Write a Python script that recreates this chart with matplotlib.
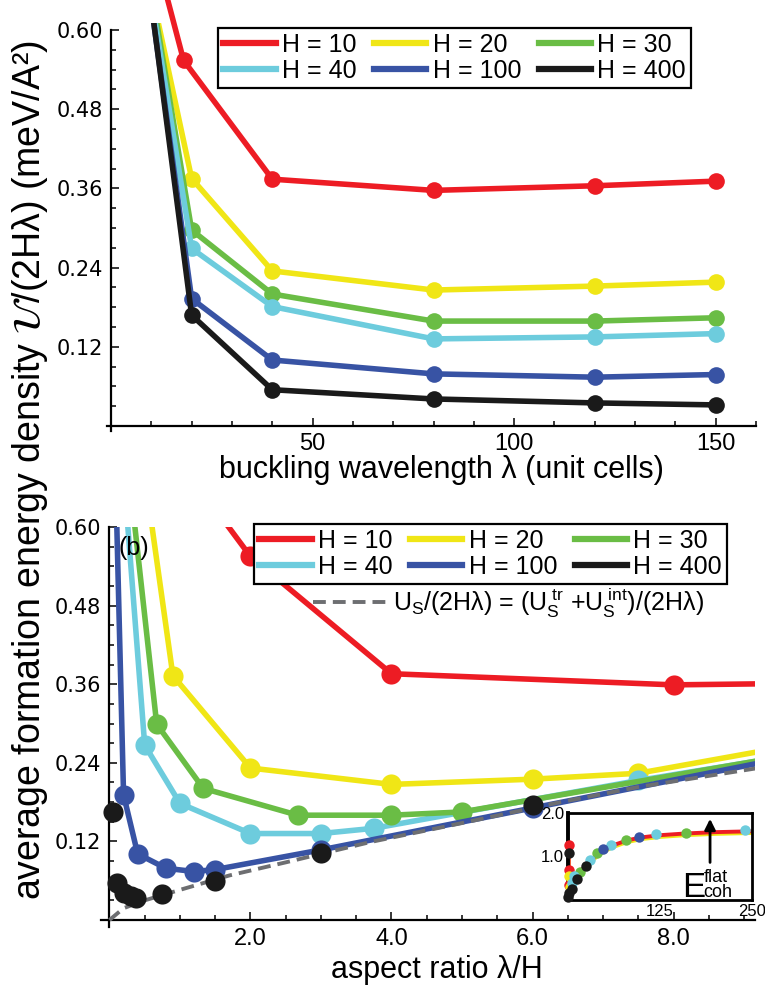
import matplotlib
matplotlib.use('Agg')
import matplotlib.pyplot as plt
from matplotlib.lines import Line2D
from matplotlib.ticker import MultipleLocator, FixedLocator

plt.rcParams['font.family'] = ['Liberation Sans', 'DejaVu Sans']
plt.rcParams['mathtext.fontset'] = 'custom'
plt.rcParams['mathtext.rm'] = 'Liberation Sans'
plt.rcParams['mathtext.it'] = 'Liberation Sans:italic'
plt.rcParams['mathtext.bf'] = 'Liberation Sans:bold'

# ---------------- data ----------------
heights = ['H = 10', 'H = 20', 'H = 30', 'H = 40', 'H = 100', 'H = 400']
colors = ['#ED1C24', '#F0E616', '#6ABD45', '#6DCCDD', '#3853A4', '#1A1A1A']

# panel (a): buckling wavelength lambda (unit cells)
lam_a_H10 = [10, 18, 40, 80, 120, 150]
lam_a = [10, 20, 40, 80, 120, 150]
Ea_H10 = [0.74, 0.554, 0.374, 0.357, 0.364, 0.371]
Ea_H20 = [0.66, 0.375, 0.235, 0.206, 0.212, 0.218]
Ea_H30 = [0.66, 0.297, 0.200, 0.159, 0.159, 0.164]
Ea_H40 = [0.648, 0.269, 0.181, 0.132, 0.135, 0.140]
Ea_H100 = [0.637, 0.193, 0.100, 0.079, 0.074, 0.078]
Ea_H400 = [0.64, 0.168, 0.055, 0.041, 0.035, 0.032]

# panel (b): aspect ratio lambda/H
ar_H10 = [1.0, 2.0, 4.0, 8.0, 12.0, 15.0]
Eb_H10 = [0.70, 0.555, 0.376, 0.359, 0.364, 0.371]
ar_H20 = [0.5, 0.9, 2.0, 4.0, 6.0, 7.5, 15.0]
Eb_H20 = [0.68, 0.373, 0.232, 0.207, 0.215, 0.224, 0.369]
ar_H30 = [0.33, 0.67, 1.33, 2.67, 4.0, 5.0, 10.0]
Eb_H30 = [0.63, 0.299, 0.201, 0.160, 0.160, 0.165, 0.258]
ar_H40 = [0.25, 0.5, 1.0, 2.0, 3.0, 3.75, 7.5, 15.0]
Eb_H40 = [0.615, 0.267, 0.178, 0.132, 0.132, 0.140, 0.213, 0.345]
ar_H100 = [0.1, 0.2, 0.4, 0.8, 1.2, 1.5, 3.0, 6.0, 12.0]
Eb_H100 = [0.62, 0.191, 0.101, 0.079, 0.074, 0.077, 0.107, 0.171, 0.299]
ar_H400 = [0.05, 0.1, 0.2, 0.3, 0.375, 0.75, 1.5, 3.0, 6.0]
Eb_H400 = [0.165, 0.056, 0.041, 0.036, 0.033, 0.039, 0.060, 0.102, 0.176]

# U_S/(2H lambda) dashed curve
ar_Us = [0.0, 0.2, 0.5, 1.0, 1.7, 2.5, 3.7, 5.0, 6.4, 7.5, 9.2]
Us = [0.0, 0.018, 0.030, 0.046, 0.068, 0.088, 0.119, 0.148, 0.180, 0.203, 0.232]

# inset
inset_curve_x = [1, 1, 1, 3, 6, 10, 20, 30, 40, 50, 60, 80, 100, 125, 160, 200, 250]
inset_red_y = [1.27, 0.70, 0.05, 0.22, 0.38, 0.50, 0.72, 0.90, 1.05, 1.16, 1.25, 1.37, 1.44, 1.49, 1.53, 1.56, 1.58]
inset_yel_y = [1.22, 0.65, 0.02, 0.18, 0.34, 0.46, 0.68, 0.86, 1.01, 1.12, 1.21, 1.33, 1.40, 1.45, 1.49, 1.52, 1.54]
inset_pts = {
    '#ED1C24': ([1, 1, 2], [1.27, 0.70, 0.35]),
    '#F0E616': ([2, 3], [0.55, 0.30]),
    '#6ABD45': ([16, 40, 79, 160], [0.64, 1.07, 1.39, 1.55]),
    '#6DCCDD': ([5, 8, 30, 59, 120, 240], [0.40, 0.55, 0.92, 1.27, 1.52, 1.60]),
    '#3853A4': ([48, 96], [1.17, 1.44]),
    '#1A1A1A': ([1, 0, 5, 12, 25, 2], [1.08, 0.06, 0.25, 0.48, 0.78, 0.15]),
}

W, H = 765, 993
fig = plt.figure(figsize=(W / 100, H / 100), dpi=100)


def rect(x0, y0, x1, y1):
    return [x0 / W, 1 - y1 / H, (x1 - x0) / W, (y1 - y0) / H]


def style_axes(ax, ymin, ytop):
    for s in ['top', 'right']:
        ax.spines[s].set_visible(False)
    ax.spines['left'].set_position(('data', 0))
    ax.spines['bottom'].set_position(('data', 0))
    ax.spines['left'].set_bounds(ymin, ytop)
    for s in ['left', 'bottom']:
        ax.spines[s].set_linewidth(1.6)
    ax.tick_params(which='both', direction='in', width=1.1)
    ax.tick_params(which='major', length=6)
    ax.tick_params(which='minor', length=3.5)
    ax.tick_params(axis='x', labelsize=17, pad=5)
    ax.tick_params(axis='y', pad=6)
    ax.yaxis.set_major_locator(FixedLocator([0.12, 0.24, 0.36, 0.48, 0.60]))
    ax.yaxis.set_minor_locator(FixedLocator([0.03 * i for i in range(1, 21)]))
    ax.set_yticklabels(['0.12', '0.24', '0.36', '0.48', '0.60'],
                       family='DejaVu Sans', fontsize=15)


LW = 4.0
# ---------------- panel (a) ----------------
ax1 = fig.add_axes(rect(107, 23.4, 756, 431.3))
ax1.set_xlim(-1, 160)
ax1.set_ylim(-0.008, 0.61)
Ea = [Ea_H10, Ea_H20, Ea_H30, Ea_H40, Ea_H100, Ea_H400]
for i, (lab, c, e) in enumerate(zip(heights, colors, Ea)):
    xs = lam_a_H10 if i == 0 else lam_a
    ax1.plot(xs, e, '-o', color=c, lw=LW, ms=12, mec='none',
             markevery=slice(1, None), clip_on=(i != 0), zorder=2 + 0.1 * i)
style_axes(ax1, -0.008, 0.60)
ax1.spines['bottom'].set_bounds(-1, 160)
ax1.xaxis.set_major_locator(FixedLocator([50, 100, 150]))
ax1.xaxis.set_minor_locator(MultipleLocator(10))
ax1.set_xlabel('buckling wavelength λ (unit cells)', fontsize=22)
ax1.xaxis.set_label_coords((441 - 107) / (756 - 107), (431.3 - 470) / (431.3 - 23.4))
ax1.xaxis.label.set_verticalalignment('center')
ax1.text(113, 0.575, '(a)', fontsize=18, ha='left', va='center')

handles = [Line2D([], [], color=c, lw=4.5) for c in colors]
order = [0, 3, 1, 4, 2, 5]
leg_a = ax1.legend([handles[k] for k in order], [heights[k] for k in order], ncol=3,
                   loc='upper left', bbox_to_anchor=(218 / W, 1 - 28 / H),
                   bbox_transform=fig.transFigure, fontsize=18, fancybox=False,
                   edgecolor='black', framealpha=1, handlelength=2.1,
                   handletextpad=0.25, columnspacing=0.7, borderpad=0.2,
                   labelspacing=0.08, borderaxespad=0)
leg_a.get_frame().set_linewidth(1.6)

# ---------------- panel (b) ----------------
ax2 = fig.add_axes(rect(101, 527, 754.6, 926.55))
ax2.set_xlim(-0.12, 9.15)
ax2.set_ylim(-0.01, 0.60)
series_b = [(ar_H10, Eb_H10, 0), (ar_H20, Eb_H20, 1), (ar_H40, Eb_H40, 3),
            (ar_H30, Eb_H30, 2), (ar_H100, Eb_H100, 4)]
for j, (xs, ys, k) in enumerate(series_b):
    ax2.plot(xs, ys, '-o', color=colors[k], lw=LW, ms=14.5, mec='none',
             markevery=slice(1, None), zorder=2 + 0.1 * j)
ax2.plot(ar_Us, Us, color='#6D6E71', lw=2.8, ls=(0, (3.3, 1.8)), zorder=2.6)
ax2.plot(ar_H400, Eb_H400, 'o', color=colors[5], ms=14.5, mec='none', zorder=2.7)
style_axes(ax2, -0.01, 0.60)
ax2.spines['bottom'].set_bounds(-0.12, 9.15)
ax2.xaxis.set_major_locator(FixedLocator([2, 4, 6, 8]))
ax2.xaxis.set_minor_locator(MultipleLocator(0.5))
ax2.set_xticklabels(['2.0', '4.0', '6.0', '8.0'])
ax2.tick_params(axis='x', pad=6)
ax2.set_xlabel('aspect ratio λ/H', fontsize=22)
ax2.xaxis.set_label_coords((437 - 101) / (754.6 - 101), (926.55 - 970) / (926.55 - 527))
ax2.xaxis.label.set_verticalalignment('center')
ax2.text(0.13, 0.568, '(b)', fontsize=18, ha='left', va='center')

leg_b = ax2.legend([handles[k] for k in order], [heights[k] for k in order], ncol=3,
                   loc='upper left', bbox_to_anchor=(254 / W, 1 - 524 / H),
                   bbox_transform=fig.transFigure, fontsize=18, fancybox=False,
                   edgecolor='black', framealpha=1, handlelength=2.1,
                   handletextpad=0.25, columnspacing=0.7, borderpad=0.2,
                   labelspacing=0.08, borderaxespad=0)
leg_b.get_frame().set_linewidth(1.6)
ax2.add_artist(leg_b)
us_label = ('U$_{\\mathregular{S}}$/(2Hλ) = (U$_{\\mathregular{S}}^{\\mathregular{\\ tr}}$'
            ' +U$_{\\mathregular{S}}^{\\mathregular{\\ int}}$)/(2Hλ)')
leg_us = ax2.legend([Line2D([], [], color='#6D6E71', lw=2.8, ls=(0, (3.3, 1.8)))],
                    [us_label], loc='upper left', bbox_to_anchor=(313 / W, 1 - 586 / H),
                    bbox_transform=fig.transFigure, fontsize=18, frameon=False,
                    handlelength=3.1, handletextpad=0.1, borderpad=0, borderaxespad=0)

# ---------------- inset ----------------
axi = fig.add_axes(rect(568, 813, 752, 900))
axi.set_xlim(0, 250)
axi.set_ylim(0, 2.0)
axi.plot(inset_curve_x, inset_yel_y, color='#F0E616', lw=2.8, zorder=2)
axi.plot(inset_curve_x, inset_red_y, color='#ED1C24', lw=2.8, zorder=2.1)
for z, (c, (xs, ys)) in enumerate(inset_pts.items()):
    axi.plot(xs, ys, 'o', color=c, ms=7.5, mec='none', clip_on=False, zorder=3 + 0.1 * z)
axi.xaxis.set_major_locator(FixedLocator([125, 250]))
axi.yaxis.set_major_locator(FixedLocator([1.0, 2.0]))
axi.set_xticklabels(['125', '250'])
axi.set_yticklabels(['1.0', '2.0'])
axi.tick_params(length=0, labelsize=12, pad=3)
for s in axi.spines.values():
    s.set_linewidth(2.0)
axi.spines['left'].set_linewidth(2.8)
axi.annotate('', xy=(193, 1.93), xytext=(193, 0.80),
             arrowprops=dict(arrowstyle='-|>', lw=2.0, color='black', mutation_scale=16))
axi.text(155, 0.07, 'E', fontsize=25, ha='left', va='baseline')
axi.text(184, 0.42, 'flat', fontsize=13, ha='left', va='baseline')
axi.text(184, 0.07, 'coh', fontsize=13, ha='left', va='baseline')

# ---------------- shared y label ----------------
fig.text(30 / W, 1 - 470 / H,
         'average formation energy density $\\mathcal{U}$/(2Hλ) (meV/A²)',
         rotation=90, ha='center', va='center', fontsize=27, math_fontfamily='stix')

fig.savefig('out.png', dpi=100)
